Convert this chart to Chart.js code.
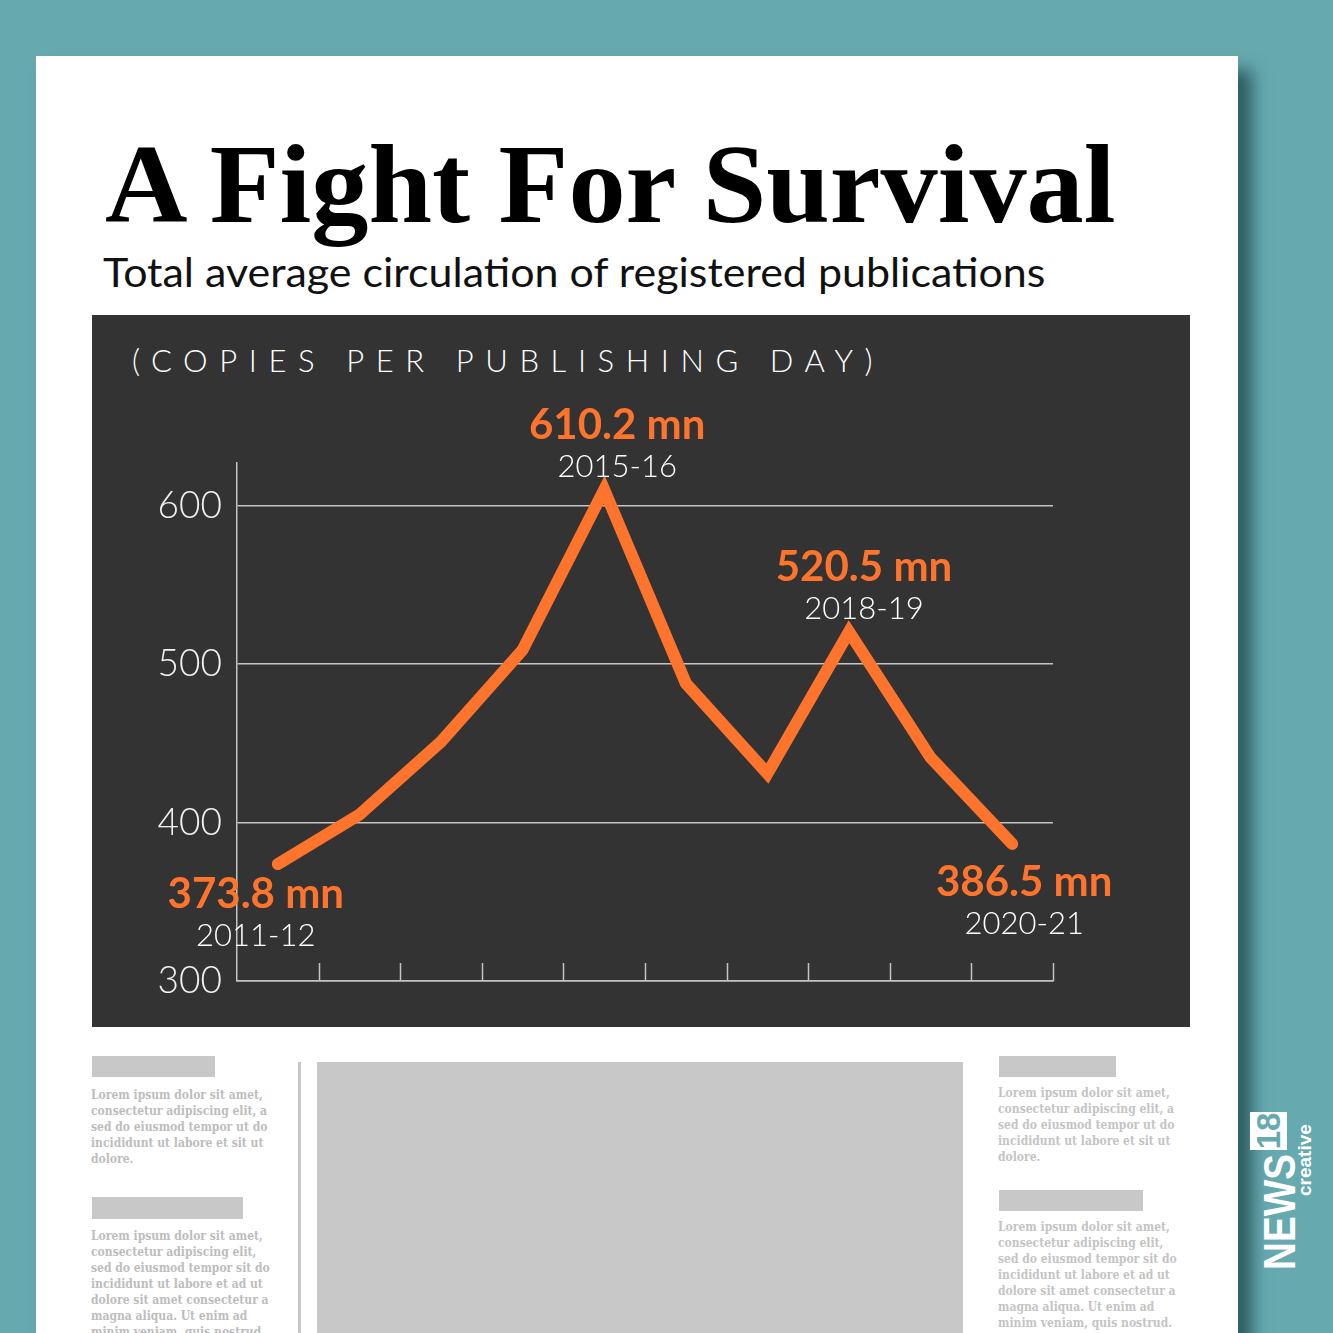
<!DOCTYPE html>
<html>
<head>
<meta charset="utf-8">
<script src="https://cdn.jsdelivr.net/npm/chart.js@4.4.1/dist/chart.umd.min.js"></script>
<style>
  html, body { margin: 0; padding: 0; }
  body { width: 1333px; height: 1333px; background: #66aab0; position: relative; overflow: hidden; font-family: Lato, "Open Sans", sans-serif; }
  .page { position: absolute; left: 36px; top: 56px; width: 1202px; height: 1320px; background: #fff; box-shadow: 14px 14px 16px rgba(25, 65, 70, 0.75); }
  .title { position: absolute; left: 105px; top: 128px; font-family: "Liberation Serif", "DejaVu Serif", serif; font-weight: bold; font-size: 112px; line-height: 1; white-space: nowrap; color: #000; transform-origin: 0 0; }
  .subtitle { position: absolute; left: 103px; top: 250px; font-size: 40px; line-height: 1.1; white-space: nowrap; color: #111; transform-origin: 0 0; }
  .panel { position: absolute; left: 92px; top: 315px; width: 1098px; height: 712px; background: #333333; }
  .panel canvas { position: absolute; left: 0; top: 0; }
  .unit { position: absolute; left: 40px; top: 26px; color: #fff; font-size: 31px; font-weight: 300; letter-spacing: 11.6px; white-space: nowrap; }
  .bar { position: absolute; background: #c8c8c8; }
  .lorem { position: absolute; font-family: "DejaVu Serif Condensed", "DejaVu Serif", serif; font-weight: bold; font-size: 12px; line-height: 16px; color: #bdbdbd; white-space: nowrap; }
  .logo { position: absolute; left: 1250px; top: 1110px; width: 66px; height: 160px; }
  .logo-in { position: absolute; left: -47px; top: 47px; width: 160px; height: 66px; transform: rotate(-90deg); font-family: "Liberation Sans", Arial, sans-serif; font-weight: bold; color: #fff; }
  .news { position: absolute; left: 0; top: 8px; font-size: 44px; line-height: 44px; transform-origin: 0 0; white-space: nowrap; }
  .n18 { position: absolute; left: 120px; top: 0; width: 38px; height: 37px; background: #fff; color: #66aab0; font-size: 33px; line-height: 38px; text-align: center; }
  .creative { position: absolute; left: 74px; top: 45px; font-size: 19px; line-height: 20px; }
</style>
</head>
<body>
<div class="page"></div>
<div class="title" id="title">A Fight For Survival</div>
<div class="subtitle" id="subtitle">Total average circulation of registered publications</div>

<div class="panel">
  <div class="unit">(COPIES PER PUBLISHING DAY)</div>
  <canvas id="chart" width="1098" height="712"></canvas>
</div>

<div class="bar" style="left:92px;top:1056px;width:123px;height:21px"></div>
<div class="lorem" style="left:91px;top:1087px">Lorem ipsum dolor sit amet,<br>consectetur adipiscing elit, a<br>sed do eiusmod tempor ut do<br>incididunt ut labore et sit ut<br>dolore.</div>
<div class="bar" style="left:92px;top:1197px;width:151px;height:22px"></div>
<div class="lorem" style="left:91px;top:1228px">Lorem ipsum dolor sit amet,<br>consectetur adipiscing elit,<br>sed do eiusmod tempor sit do<br>incididunt ut labore et ad ut<br>dolore sit amet consectetur a<br>magna aliqua. Ut enim ad<br>minim veniam, quis nostrud.</div>
<div class="bar" style="left:298px;top:1062px;width:3px;height:280px"></div>
<div class="bar" style="left:317px;top:1062px;width:646px;height:280px"></div>
<div class="bar" style="left:999px;top:1056px;width:117px;height:21px"></div>
<div class="lorem" style="left:998px;top:1085px;color:#c4c4c4">Lorem ipsum dolor sit amet,<br>consectetur adipiscing elit, a<br>sed do eiusmod tempor ut do<br>incididunt ut labore et sit ut<br>dolore.</div>
<div class="bar" style="left:999px;top:1190px;width:144px;height:21px"></div>
<div class="lorem" style="left:998px;top:1219px;color:#c4c4c4">Lorem ipsum dolor sit amet,<br>consectetur adipiscing elit,<br>sed do eiusmod tempor sit do<br>incididunt ut labore et ad ut<br>dolore sit amet consectetur a<br>magna aliqua. Ut enim ad<br>minim veniam, quis nostrud.</div>

<div class="logo">
  <div class="logo-in">
    <span class="news" id="news">NEWS</span>
    <span class="n18">18</span>
    <span class="creative">creative</span>
  </div>
</div>

<script>
// data, in million copies per publishing day
const years = ['2011-12', '2012-13', '2013-14', '2014-15', '2015-16',
               '2016-17', '2017-18', '2018-19', '2019-20', '2020-21'];
const circulation = [373.8, 405, 451, 509, 610.2, 488, 431, 520.5, 441, 386.5];
const yTicks = [300, 400, 500, 600];
const calloutIdx = [0, 4, 7, 9];

// where each callout sits relative to its point
const calloutPos = {
  0: { dx: -22, dy: 44 },
  4: { dx: 13, dy: -51 },
  7: { dx: 15, dy: -51 },
  9: { dx: 12, dy: 52 }
};

const ORANGE = '#ff742d';
const GRID = '#c4c4c4';

function fitWidth(id, w) {
  const el = document.getElementById(id);
  const cur = el.offsetWidth;
  el.style.transform = 'scaleX(' + (w / cur) + ')';
}
fitWidth('title', 1010);
fitWidth('subtitle', 942);
fitWidth('news', 116);

const xTicksPlugin = {
  id: 'xTicks',
  afterDraw(chart) {
    const x = chart.scales.x;
    const { ctx, chartArea } = chart;
    ctx.save();
    ctx.strokeStyle = GRID;
    ctx.lineWidth = 1.5;
    for (let i = 1; i <= years.length; i++) {
      const px = Math.round(x.getPixelForValue(i - 0.5)) + 0.5;
      ctx.beginPath();
      ctx.moveTo(px, chartArea.bottom);
      ctx.lineTo(px, chartArea.bottom - 18);
      ctx.stroke();
    }
    ctx.restore();
  }
};

const calloutPlugin = {
  id: 'callouts',
  afterDatasetsDraw(chart) {
    const { ctx } = chart;
    const x = chart.scales.x, y = chart.scales.y;
    ctx.save();
    ctx.textAlign = 'center';
    ctx.textBaseline = 'alphabetic';
    calloutIdx.forEach(i => {
      const p = calloutPos[i];
      const px = x.getPixelForValue(i) + p.dx;
      const py = y.getPixelForValue(circulation[i]) + p.dy;
      ctx.fillStyle = ORANGE;
      ctx.font = 'bold 42px Lato, "Open Sans", sans-serif';
      ctx.fillText(circulation[i].toFixed(1) + ' mn', px, py);
      ctx.fillStyle = '#ffffff';
      ctx.font = '300 31px Lato, "Open Sans", sans-serif';
      ctx.fillText(years[i], px, py + 38);
    });
    ctx.restore();
  }
};

new Chart(document.getElementById('chart'), {
  type: 'line',
  data: {
    labels: years,
    datasets: [{
      data: circulation,
      borderColor: ORANGE,
      borderWidth: 12,
      borderCapStyle: 'round',
      borderJoinStyle: 'miter',
      tension: 0,
      pointRadius: 0,
      fill: false
    }]
  },
  options: {
    responsive: false,
    animation: false,
    layout: { padding: { top: 148, right: 137, bottom: 46, left: 0 } },
    plugins: { legend: { display: false }, tooltip: { enabled: false } },
    scales: {
      x: {
        type: 'category',
        offset: true,
        ticks: { display: false },
        grid: { display: true, drawOnChartArea: false, drawTicks: false },
        border: { display: true, color: GRID, width: 1.5 },
        afterFit: s => { s.height = 0; }
      },
      y: {
        min: 300,
        max: 627,
        afterBuildTicks: s => { s.ticks = yTicks.map(v => ({ value: v })); },
        afterFit: s => { s.width = 145; },
        ticks: {
          color: '#f2f2f2',
          padding: 15,
          font: { family: 'Lato, "Open Sans", sans-serif', size: 37, weight: 300 }
        },
        grid: { color: GRID, lineWidth: 1.5, drawTicks: false },
        border: { display: true, color: GRID, width: 1.5 }
      }
    }
  },
  plugins: [xTicksPlugin, calloutPlugin]
});
</script>
</body>
</html>
